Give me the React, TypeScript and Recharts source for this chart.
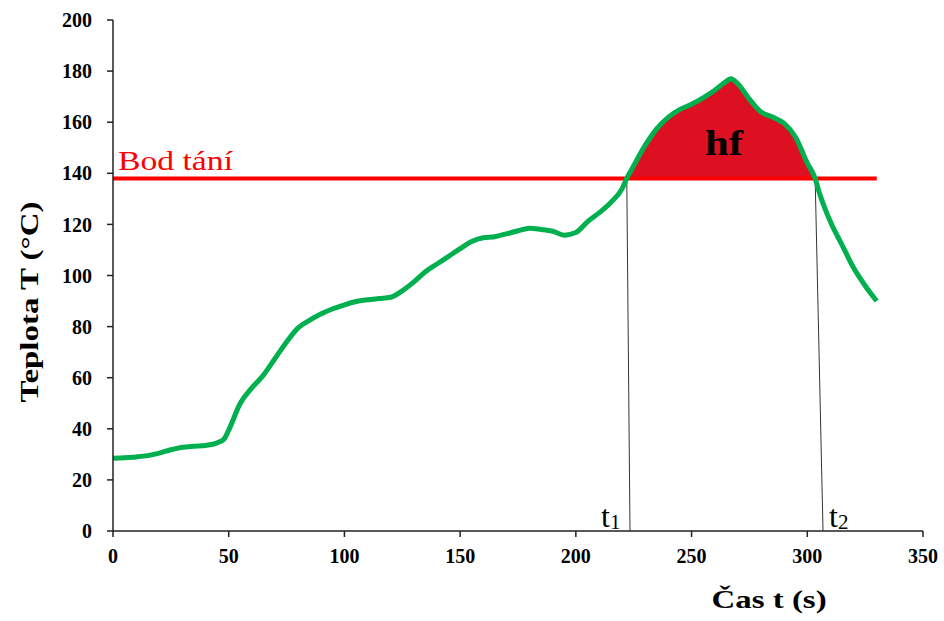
import { ComposedChart, Line, Area, XAxis, YAxis, ReferenceLine, ReferenceDot, Label } from 'recharts'

// time (s) and temperature (°C)
const TIME = [
  0, 5, 10, 15, 20, 25, 30, 35, 40, 45, 48,
  50, 55, 60, 65, 70, 75, 80, 85, 90, 95,
  100, 105, 110, 115, 120, 125, 130, 135, 140, 145,
  150, 155, 160, 165, 170, 175, 180, 185, 190, 195,
  200, 205, 210, 215, 220, 222,
  225, 230, 235, 240, 245, 250, 255, 260, 265, 267,
  270, 275, 280, 285, 290, 295, 300, 303.4,
  305, 310, 315, 320, 325, 330,
]
const TEMP = [
  28.5, 28.7, 29, 29.5, 30.5, 31.8, 32.8, 33.2, 33.5, 34.5, 36,
  39.5, 50, 56, 61, 67.5, 74, 79.5, 82.5, 85, 87,
  88.5, 89.8, 90.5, 91, 91.5, 94, 97.5, 101.5, 104.5, 107.5,
  110.5, 113.3, 114.8, 115.2, 116.3, 117.5, 118.5, 118, 117.3, 115.8,
  116.8, 121, 124.5, 128.5, 134, 138,
  143, 151, 157.5, 162, 165, 167, 169.5, 172.5, 176, 177,
  175, 169, 164, 162, 159.5, 154, 144, 138,
  133, 121, 112, 103, 96, 90,
]

const MELT_POINT = 138
const T1 = [222, 223.4] // top, bottom of the t1 marker
const T2 = [303.4, 306.8]
const X_TICKS = [0, 50, 100, 150, 200, 250, 300, 350]
const Y_TICKS = [0, 20, 40, 60, 80, 100, 120, 140, 160, 180, 200]

const data = TIME.map((t, i) => ({
  t,
  temp: TEMP[i],
  melt: t >= T1[0] && t <= T2[0] ? [MELT_POINT, TEMP[i]] : null,
}))

const SERIF = '"Liberation Serif", "Times New Roman", serif'
const tickStyle = { fontFamily: SERIF, fontSize: 20, fontWeight: 700, fill: '#000' }

function Sub({ cx, cy, n, anchor }: { cx?: number; cy?: number; n: string; anchor: 'start' | 'end' }) {
  const x = anchor === 'end' ? (cx ?? 0) - 29 : (cx ?? 0) + 6
  return (
    <text x={x} y={(cy ?? 0) - 4} fontFamily={SERIF} fontSize={32} fill="#000">
      t<tspan fontSize={21} dy={2}>{n}</tspan>
    </text>
  )
}

export default function App() {
  return (
    <div style={{ position: 'absolute', left: 0, top: 0 }}>
      <ComposedChart width={944} height={621} data={data} margin={{ top: 20, right: 21, bottom: 0, left: 0 }}>
        <XAxis
          type="number"
          dataKey="t"
          domain={[0, 350]}
          ticks={X_TICKS}
          interval={0}
          height={90}
          tickSize={6}
          tickMargin={12}
          tick={tickStyle}
          axisLine={{ stroke: '#222', strokeWidth: 1.5 }}
          tickLine={{ stroke: '#222', strokeWidth: 1.5 }}
        >
          <Label
            content={({ viewBox }: any) => (
              <text
                x={viewBox.x + viewBox.width * 0.81}
                y={viewBox.y + 77}
                textAnchor="middle"
                fontFamily={SERIF}
                fontSize={26}
                fontWeight={700}
                textLength={115}
                lengthAdjust="spacingAndGlyphs"
                fill="#000"
              >
                Čas t (s)
              </text>
            )}
          />
        </XAxis>
        <YAxis
          type="number"
          domain={[0, 200]}
          ticks={Y_TICKS}
          interval={0}
          width={113}
          tickSize={6}
          tickMargin={15}
          tick={tickStyle}
          axisLine={{ stroke: '#222', strokeWidth: 1.5 }}
          tickLine={{ stroke: '#222', strokeWidth: 1.5 }}
        >
          <Label
            content={({ viewBox }: any) => {
              const cx = 38
              const cy = viewBox.y + 282
              return (
                <text
                  x={cx}
                  y={cy}
                  transform={`rotate(-90 ${cx} ${cy})`}
                  textAnchor="middle"
                  fontFamily={SERIF}
                  fontSize={26}
                  fontWeight={700}
                  textLength={201}
                  lengthAdjust="spacingAndGlyphs"
                  fill="#000"
                >
                  Teplota T (°C)
                </text>
              )
            }}
          />
        </YAxis>

        <Area
          type="monotone"
          dataKey="melt"
          stroke="none"
          fill="#DC1020"
          fillOpacity={1}
          connectNulls={false}
          isAnimationActive={false}
        />
        <ReferenceLine
          segment={[{ x: T1[0], y: MELT_POINT }, { x: T1[1], y: 0 }]}
          stroke="#333"
          strokeWidth={1}
        />
        <ReferenceLine
          segment={[{ x: T2[0], y: MELT_POINT }, { x: T2[1], y: 0 }]}
          stroke="#333"
          strokeWidth={1}
        />
        <ReferenceLine
          segment={[{ x: 0, y: MELT_POINT }, { x: 330, y: MELT_POINT }]}
          stroke="#FF0000"
          strokeWidth={4}
        />
        <Line
          type="monotone"
          dataKey="temp"
          stroke="#00B04F"
          strokeWidth={5}
          dot={false}
          activeDot={false}
          isAnimationActive={false}
        />

        <ReferenceDot
          x={0}
          y={MELT_POINT}
          r={0}
          shape={(p: any) => (
            <text
              x={p.cx + 5}
              y={p.cy - 8}
              fontFamily={SERIF}
              fontSize={27}
              textLength={115}
              lengthAdjust="spacingAndGlyphs"
              fill="#FF0000"
            >
              Bod tání
            </text>
          )}
        />
        <ReferenceDot
          x={264}
          y={147}
          r={0}
          shape={(p: any) => (
            <text
              x={p.cx}
              y={p.cy}
              textAnchor="middle"
              fontFamily={SERIF}
              fontSize={35}
              fontWeight={700}
              textLength={38}
              lengthAdjust="spacingAndGlyphs"
              fill="#000"
            >
              hf
            </text>
          )}
        />
        <ReferenceDot x={T1[1]} y={0} r={0} shape={(p: any) => <Sub cx={p.cx} cy={p.cy} n="1" anchor="end" />} />
        <ReferenceDot x={T2[1]} y={0} r={0} shape={(p: any) => <Sub cx={p.cx} cy={p.cy} n="2" anchor="start" />} />
      </ComposedChart>
    </div>
  )
}
